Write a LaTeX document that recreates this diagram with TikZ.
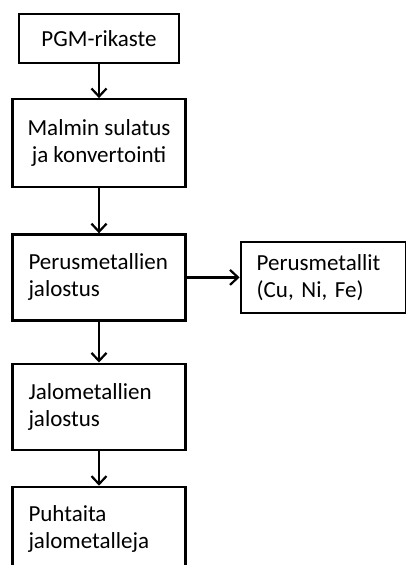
\documentclass[tikz,border=0pt]{standalone}
\usepackage{fontspec}
\setmainfont{Carlito}
\usetikzlibrary{positioning,arrows.meta}
\begin{document}
\begin{tikzpicture}[line width=2.2pt, >={Straight Barb[length=8pt,width=15pt]},
		box/.style={rectangle, draw, minimum width=173pt, inner xsep=0pt, font=\fontsize{23}{27}\selectfont},
		leftbox/.style={box, text width=141pt, align=left}]
		\useasboundingbox (0,0) rectangle (405pt,-565pt);
		\node (rikaste) [box, minimum width=160pt, minimum height=49pt, text centered] at (99pt,-38.5pt) {PGM-rikaste};
		\node (sulatus) [box, below=34pt of rikaste, minimum height=88pt, align=center] {Malmin sulatus\\ja konvertointi};
		\node (perus) [leftbox, below=45pt of sulatus, minimum height=86pt] {Perusmetallien\\jalostus};
		\node (metallit) [box, right=53pt of perus, minimum width=165pt, text width=133pt, align=left, minimum height=71pt] {Perusmetallit\\(Cu, Ni, Fe)};
		\node (jalo) [leftbox, below=41pt of perus, minimum height=86pt] {Jalometallien\\jalostus};
		\node (puhtaita) [leftbox, below=35pt of jalo, minimum height=85pt] {Puhtaita\\jalometalleja};
		
		\draw[->] (rikaste) -- (sulatus);
		\draw[->] (sulatus) -- (perus);
		\draw[->] (perus) -- (metallit);
		\draw[->] (perus) -- (jalo);
		\draw[->] (jalo) -- (puhtaita);
	\end{tikzpicture}
\end{document}
